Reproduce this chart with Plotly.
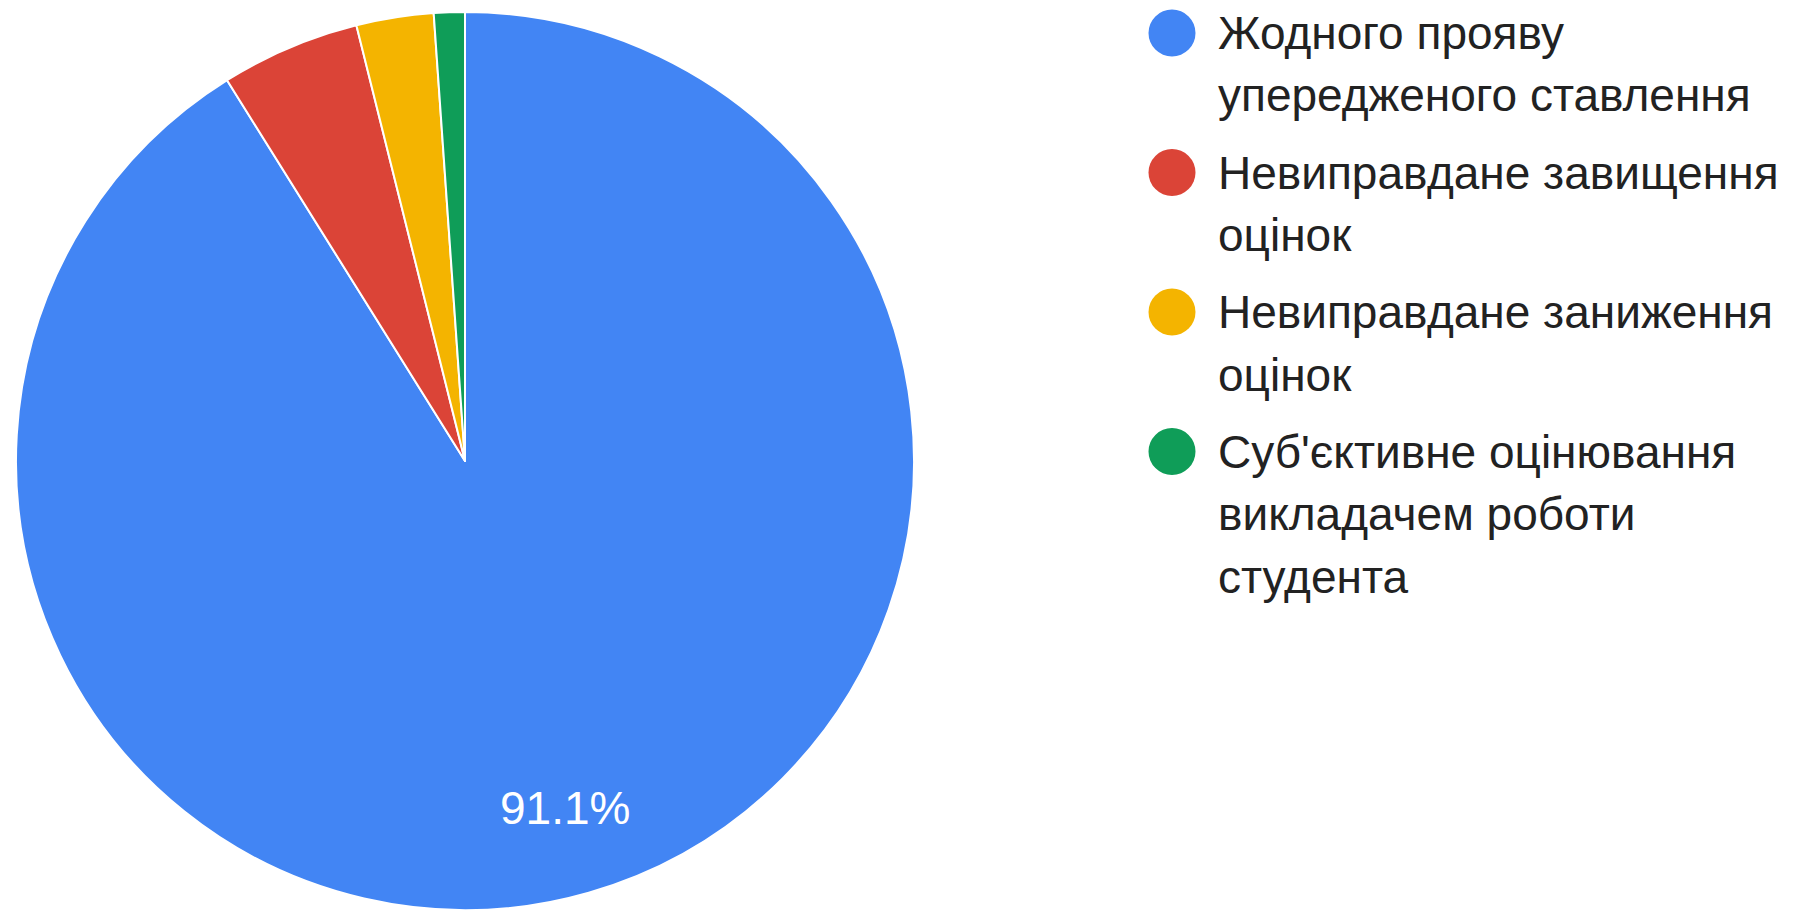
import math
import plotly.graph_objects as go

# ---- data ----
categories = [
    "Жодного прояву упередженого ставлення",
    "Невиправдане завищення оцінок",
    "Невиправдане заниження оцінок",
    "Суб'єктивне оцінювання викладачем роботи студента",
]
legend_lines = [
    ["Жодного прояву", "упередженого ставлення"],
    ["Невиправдане завищення", "оцінок"],
    ["Невиправдане заниження", "оцінок"],
    ["Суб'єктивне оцінювання", "викладачем роботи", "студента"],
]
counts = [164, 9, 5, 2]
colors = ["#4285F4", "#DB4437", "#F4B400", "#0F9D58"]
shown_labels = [True, False, False, False]

# ---- layout constants (px, figure coordinates; page body has 8px margin) ----
W, H = 1792, 903
FONT = "Liberation Sans, Arial, sans-serif"
FS = 46
LABEL_FS = 46
LINE_H = 62.5
ITEM_STEP = 139.5
MARK_X = 1164
MARK_R = 23.5
TEXT_X = 1209
FIRST_Y = 25
PIE_CX, PIE_CY, PIE_R = 457, 453, 449
LABEL_RFRAC = 0.804

fig = go.Figure()
fig.add_trace(go.Pie(
    labels=categories,
    values=counts,
    marker=dict(colors=colors, line=dict(color="white", width=2)),
    sort=False,
    direction="clockwise",
    rotation=0,
    textinfo="none",
    hoverinfo="label+percent",
    showlegend=False,
    domain=dict(x=[(PIE_CX - PIE_R) / W, (PIE_CX + PIE_R) / W],
                y=[1 - (PIE_CY + PIE_R) / H, 1 - (PIE_CY - PIE_R) / H]),
))

annotations = []
shapes = []

# percentage labels for slices, placed along each slice's bisector
total = sum(counts)
cum = 0
for v, show in zip(counts, shown_labels):
    mid = (cum + v / 2) / total * 2 * math.pi
    cum += v
    if not show:
        continue
    lx = PIE_CX + LABEL_RFRAC * PIE_R * math.sin(mid)
    ly = PIE_CY - LABEL_RFRAC * PIE_R * math.cos(mid)
    annotations.append(dict(
        text=f"{v / total * 100:.1f}%", xref="paper", yref="paper",
        x=lx / W, y=1 - ly / H, xanchor="center", yanchor="middle",
        showarrow=False, font=dict(family=FONT, size=LABEL_FS, color="white"),
    ))

# legend with round markers
for k, (lines, col) in enumerate(zip(legend_lines, colors)):
    y = FIRST_Y + k * ITEM_STEP
    shapes.append(dict(
        type="circle", xref="paper", yref="paper",
        xsizemode="pixel", ysizemode="pixel",
        xanchor=MARK_X / W, yanchor=1 - y / H,
        x0=-MARK_R, x1=MARK_R, y0=-MARK_R, y1=MARK_R,
        fillcolor=col, line=dict(width=0),
    ))
    for i, ln in enumerate(lines):
        annotations.append(dict(
            text=ln, xref="paper", yref="paper",
            x=TEXT_X / W, y=1 - (y + i * LINE_H) / H,
            xanchor="left", yanchor="middle", showarrow=False,
            borderpad=0,
            font=dict(family=FONT, size=FS, color="#222222"),
        ))

fig.update_layout(
    width=W, height=H,
    margin=dict(l=0, r=0, t=0, b=0),
    paper_bgcolor="white",
    plot_bgcolor="white",
    showlegend=False,
    shapes=shapes,
    annotations=annotations,
)

fig.write_html("out.html")
